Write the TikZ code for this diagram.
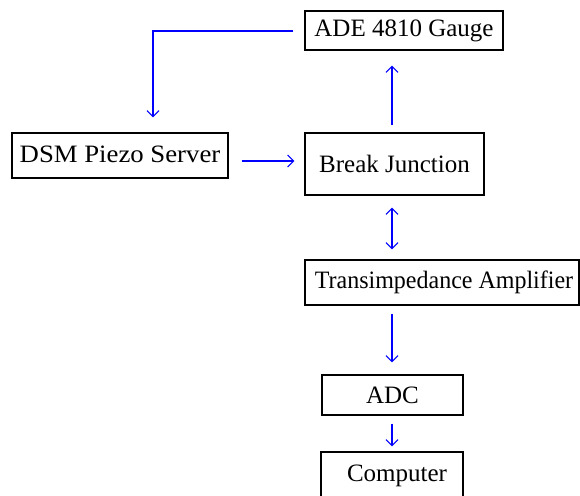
\documentclass[tikz,border=0pt]{standalone}
\usepackage{fontspec}
\setmainfont{Liberation Serif}
\usetikzlibrary{arrows.meta}
\begin{document}
\begin{tikzpicture}[x=1pt,y=-1pt,
  box/.style={draw=black, line width=1.3pt, rectangle, inner sep=0pt, align=center,
    font=\fontsize{25}{29}\selectfont},
  tip/.tip={Straight Barb[length=6pt,width=12pt,line width=1.1pt]},
  arr/.style={draw=blue, line width=1.1pt, -tip},
  darr/.style={draw=blue, line width=1.1pt, tip-tip}]
\useasboundingbox (0,0) rectangle (580,495);
\node[box, minimum width=198pt, minimum height=39pt] (ade) at (404,30.5) {ADE 4810 Gauge};
\node[box, minimum width=216pt, minimum height=45pt] (dsm) at (120,155.5) {\raisebox{3pt}{\scalebox{1.07}[1]{DSM Piezo Server}}};
\node[box, minimum width=179pt, minimum height=62pt] (bj) at (394.5,164) {Break Junction};
\node[box, minimum width=274pt, minimum height=45pt] (ta) at (442,282.5) {\hspace*{4pt}\scalebox{0.96}[1]{Transimpedance Amplifier}};
\node[box, minimum width=141pt, minimum height=40pt] (adc) at (392.5,395) {ADC};
\node[box, minimum width=142pt, minimum height=48pt] (comp) at (392,476) {\hspace*{10pt}\raisebox{4pt}{Computer}};
\coordinate (k) at (153,31);
\coordinate (xa) at (392,0);
\coordinate (ya) at (0,161);
\draw[arr, shorten <=11pt, shorten >=15pt] (ade.west |- k) -- (k) -- (k |- dsm.north);
\draw[arr, shorten <=13pt, shorten >=10pt] (dsm.east |- ya) -- (bj.west |- ya);
\draw[arr, shorten <=7pt, shorten >=15pt] (bj.north -| xa) -- (ade.south -| xa);
\draw[darr, shorten <=12pt, shorten >=10pt] (bj.south -| xa) -- (ta.north -| xa);
\draw[arr, shorten <=8pt, shorten >=12pt] (ta.south -| xa) -- (adc.north -| xa);
\draw[arr, shorten <=8pt, shorten >=5pt] (adc.south -| xa) -- (comp.north -| xa);
\end{tikzpicture}
\end{document}
